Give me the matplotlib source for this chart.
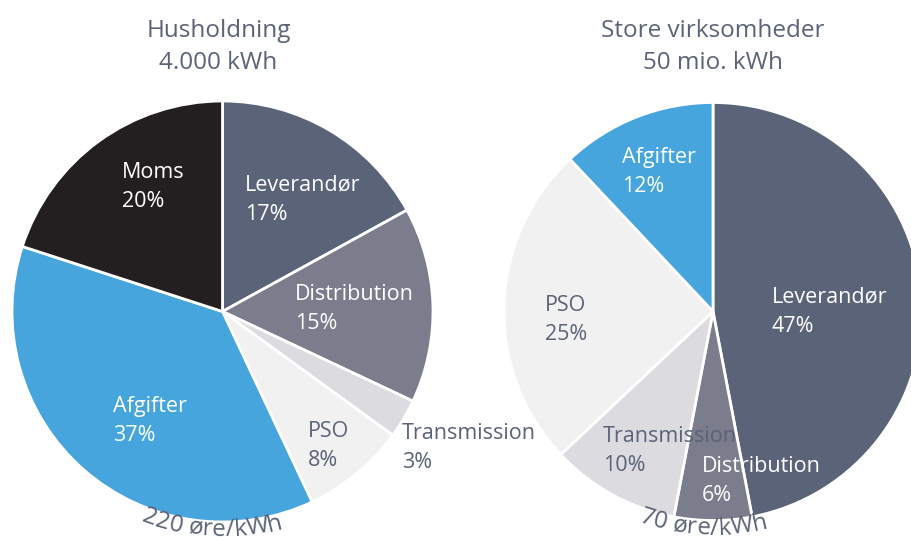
import numpy as np
import matplotlib
matplotlib.use("Agg")
import matplotlib.pyplot as plt
from matplotlib.textpath import TextToPath
from matplotlib.font_manager import FontProperties

plt.rcParams['font.family'] = ['Open Sans', 'DejaVu Sans']

# data
hh_title = ["Husholdning", "4.000 kWh"]
hh_labels = ["Leverandør", "Distribution", "Transmission", "PSO", "Afgifter", "Moms"]
hh_values = [17, 15, 3, 8, 37, 20]
hh_price = "220 øre/kWh"

sv_title = ["Store virksomheder", "50 mio. kWh"]
sv_labels = ["Leverandør", "Distribution", "Transmission", "PSO", "Afgifter"]
sv_values = [47, 6, 10, 25, 12]
sv_price = "70 øre/kWh"

# styles
colors = {"Leverandør": "#5a6378", "Distribution": "#7b7c8c", "Transmission": "#dcdbe0",
          "PSO": "#f1f1f2", "Afgifter": "#45a5dc", "Moms": "#231f20"}
dark_text = "#5a6378"
light_slices = ["Transmission", "PSO"]

# label anchors (left edge, first line centre) in pie radius units
hh_pos = {"Moms": (-0.477, 0.662), "Leverandør": (0.107, 0.600), "Distribution": (0.344, 0.083),
          "PSO": (0.406, -0.568), "Transmission": (0.853, -0.578), "Afgifter": (-0.520, -0.449)}
sv_pos = {"Afgifter": (-0.435, 0.739), "Leverandør": (0.282, 0.069), "PSO": (-0.804, 0.031),
          "Transmission": (-0.526, -0.596), "Distribution": (-0.053, -0.744)}

W, H, DPI = 912, 542, 100
fig = plt.figure(figsize=(W / DPI, H / DPI), dpi=DPI)
fs_label = 15.5
fs_title = 17.5
fs_price = 17.5


def curved_text(ax, text, r_px, radius_units, mid_deg, size):
    prop = FontProperties(family='Open Sans', size=size)
    t2p = TextToPath()
    widths = []
    for ch in text:
        w, h, d = t2p.get_text_width_height_descent(ch, prop, ismath=False)
        widths.append(w * DPI / 72.0)
    total = sum(widths)
    R = radius_units * r_px
    theta0 = np.deg2rad(mid_deg) - (total / R) / 2
    s = 0
    for ch, w in zip(text, widths):
        th = theta0 + (s + w / 2) / R
        ax.text(radius_units * np.cos(th), radius_units * np.sin(th), ch, fontsize=size,
                color=dark_text, ha='center', va='baseline', rotation=np.rad2deg(th) + 90,
                rotation_mode='anchor', clip_on=False)
        s += w


def draw_pie(cx, cy, r, labels, values, pos, title, title_dx, price, price_deg):
    ax = fig.add_axes([(cx - r) / W, (H - cy - r) / H, 2 * r / W, 2 * r / H])
    ax.pie(values, colors=[colors[l] for l in labels], startangle=90, counterclock=False,
           radius=1, wedgeprops=dict(edgecolor='white', linewidth=2))
    ax.set_xlim(-1, 1)
    ax.set_ylim(-1, 1)
    ax.set_aspect('equal')
    ax.axis('off')
    for lab, val in zip(labels, values):
        x, y = pos[lab]
        c = dark_text if lab in light_slices else 'white'
        ax.text(x, y, lab, fontsize=fs_label, color=c, ha='left', va='center', clip_on=False)
        ax.text(x, y - 29 / r, f"{val}%", fontsize=fs_label, color=c, ha='left', va='center',
                clip_on=False)
    for k, line in enumerate(title):
        ax.text(title_dx / r, (cy - 31 - 32 * k) / r, line, fontsize=fs_title, color=dark_text,
                ha='center', va='center', clip_on=False)
    curved_text(ax, price, r, 1.068, price_deg, fs_price)


draw_pie(222.5, 311.5, 210.5, hh_labels, hh_values, hh_pos, hh_title, -4, hh_price, -92.7)
draw_pie(713, 311.5, 209, sv_labels, sv_values, sv_pos, sv_title, 0, sv_price, -92.5)

fig.savefig("out.png", dpi=DPI)
